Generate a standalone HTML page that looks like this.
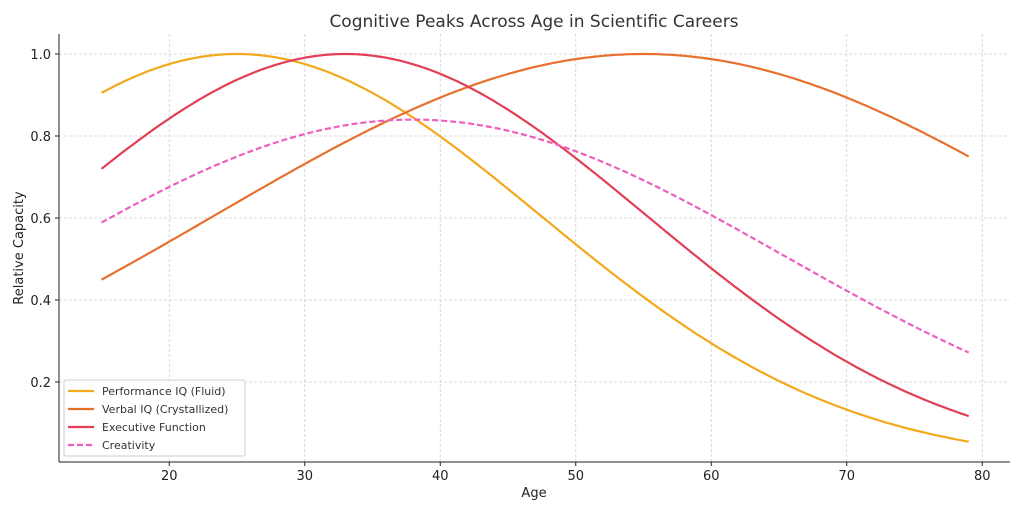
<!DOCTYPE html>
<html><head><meta charset="utf-8"><style>
body{margin:0;background:#fff;}
svg{display:block;font-family:"DejaVu Sans","Liberation Sans",sans-serif;}
</style></head><body>
<svg id="s" width="1024" height="512" xmlns="http://www.w3.org/2000/svg">
<rect width="1024" height="512" fill="#fff"/>
<g id="grid" stroke="#d0d0d0" stroke-width="0.8" stroke-dasharray="3,2"></g>
<g id="curves" fill="none" stroke-width="2.2"></g>
<line x1="59" y1="34" x2="59" y2="462" stroke="#222" stroke-width="1"/>
<line x1="59" y1="462" x2="1010" y2="462" stroke="#222" stroke-width="1"/>
<g id="ticks" font-size="13" fill="#222"></g>
<text x="534" y="27" font-size="17" text-anchor="middle" fill="#333">Cognitive Peaks Across Age in Scientific Careers</text>
<text x="534" y="497" font-size="13" text-anchor="middle" fill="#222">Age</text>
<text transform="translate(23,248) rotate(-90)" font-size="13" text-anchor="middle" fill="#222">Relative Capacity</text>
<g font-size="11" fill="#333">
<rect x="64" y="380" width="181" height="76" fill="#fff" fill-opacity="0.85" stroke="#ccc" rx="2"/>
<line x1="68" y1="391" x2="94" y2="391" stroke="#f2a91b" stroke-width="2.2"/><text x="102" y="395">Performance IQ (Fluid)</text>
<line x1="68" y1="409" x2="94" y2="409" stroke="#e8702e" stroke-width="2.2"/><text x="102" y="413">Verbal IQ (Crystallized)</text>
<line x1="68" y1="427" x2="94" y2="427" stroke="#e23e57" stroke-width="2.2"/><text x="102" y="431">Executive Function</text>
<line x1="68" y1="445" x2="94" y2="445" stroke="#ee5fbd" stroke-width="2.2" stroke-dasharray="6,3"/><text x="102" y="449">Creativity</text>
</g>
</svg>
<script>
const NS="http://www.w3.org/2000/svg";
const X=a=>101.5+(a-15)*13.55, Y=v=>464-v*410;
function el(p,t,at,txt){const e=document.createElementNS(NS,t);for(const k in at)e.setAttribute(k,at[k]);if(txt)e.textContent=txt;document.getElementById(p).appendChild(e);}
for(let a=20;a<=80;a+=10){el("grid","line",{x1:X(a),y1:34,x2:X(a),y2:462});el("ticks","line",{x1:X(a),y1:462,x2:X(a),y2:466,stroke:"#222"});el("ticks","text",{x:X(a),y:480,"text-anchor":"middle"},String(a));}
for(let v=0.2;v<=1.01;v+=0.2){el("grid","line",{x1:59,y1:Y(v),x2:1010,y2:Y(v)});el("ticks","line",{x1:55,y1:Y(v),x2:59,y2:Y(v),stroke:"#222"});el("ticks","text",{x:51,y:Y(v)+5,"text-anchor":"end"},v.toFixed(1));}
const S=[[25,501,1,"#f2a91b",""],[55,1001,1,"#e8702e",""],[33,493,1,"#e23e57",""],[38,745,0.84,"#ee5fbd","6,3"]];
for(const [m,s2,A,c,d] of S){let p="";for(let a=15;a<=79.001;a+=0.25){const v=A*Math.exp(-(a-m)*(a-m)/(2*s2));p+=(p?"L":"M")+X(a).toFixed(1)+","+Y(v).toFixed(1);}
const at={d:p,stroke:c};if(d)at["stroke-dasharray"]=d;el("curves","path",at);}
</script>
</body></html>
